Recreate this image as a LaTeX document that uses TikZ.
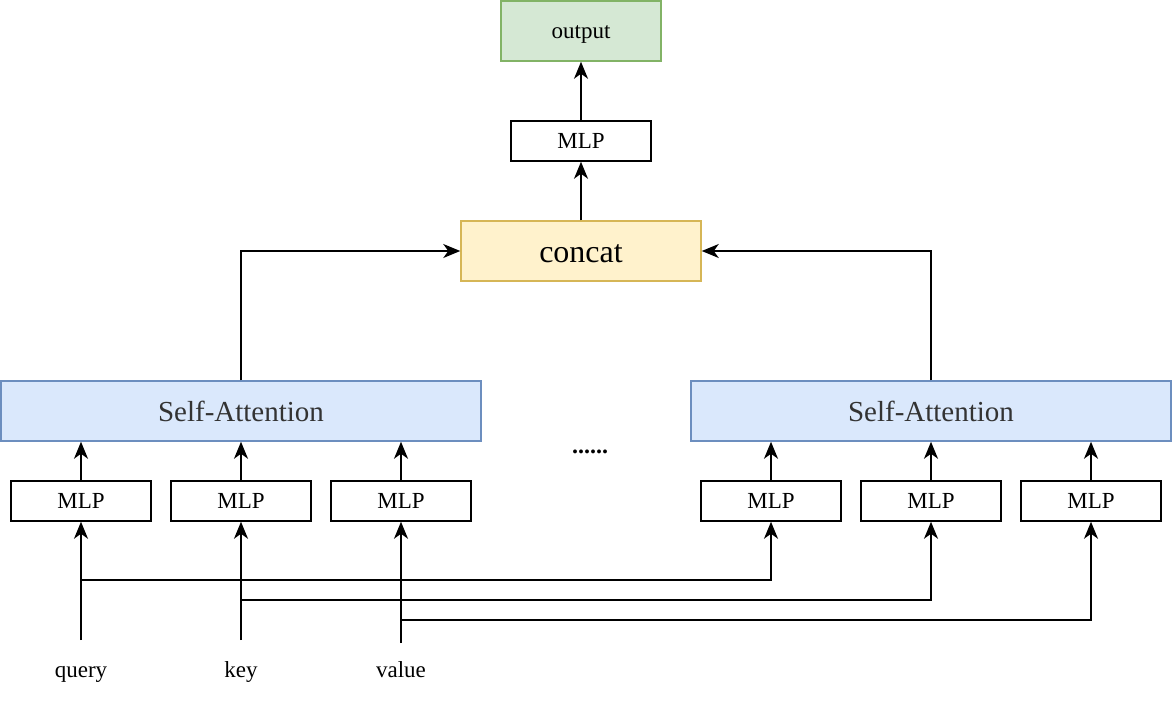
\documentclass[tikz,border=0pt]{standalone}
\usepackage{fontspec}
\setmainfont{Liberation Serif}
\usetikzlibrary{arrows.meta}
\definecolor{outfill}{HTML}{D5E8D4}
\definecolor{outdraw}{HTML}{82B366}
\definecolor{catfill}{HTML}{FFF2CC}
\definecolor{catdraw}{HTML}{D6B656}
\definecolor{safill}{HTML}{DAE8FC}
\definecolor{sadraw}{HTML}{6C8EBF}
\definecolor{satext}{HTML}{333333}
\tikzset{
  box/.style={draw, line width=1.5pt, inner sep=0pt, anchor=center},
  small/.style={font=\fontsize{23}{25}\selectfont, text height=16pt, text depth=1pt},
  mlpbox/.style={box, small, fill=white, minimum width=140pt, minimum height=40pt},
  outbox/.style={box, small, fill=outfill, draw=outdraw, minimum width=160pt, minimum height=60pt},
  catbox/.style={box, fill=catfill, draw=catdraw, minimum width=240pt, minimum height=60pt, font=\fontsize{32}{34}\selectfont, text height=23pt, text depth=1pt},
  sabox/.style={box, fill=safill, draw=sadraw, text=satext, minimum width=480pt, minimum height=60pt, font=\fontsize{29}{31}\selectfont, text height=21pt, text depth=1pt},
  lbl/.style={inner sep=0pt, small},
  conn/.style={line width=1.5pt, -{Stealth[length=17pt, width=14pt, inset=5pt]}}
}
\begin{document}
\begin{tikzpicture}[x=1pt, y=-1pt]
\useasboundingbox (0,0) rectangle (1172,702);

% top of the network
\node[outbox] (out) at (581,31) {output};
\node[mlpbox] (mlpt) at (581,141) {MLP};
\node[catbox] (cat) at (581,251) {concat};

% attention heads
\node[sabox] (sa1) at (241,411) {Self-Attention};
\node[sabox] (sa2) at (931,411) {Self-Attention};
\node[inner sep=0pt, font=\fontsize{24}{24}\selectfont\bfseries] (dots) at (590,452) {......};

% per-head projections
\node[mlpbox] (m1) at (81,501) {MLP};
\node[mlpbox] (m2) at (241,501) {MLP};
\node[mlpbox] (m3) at (401,501) {MLP};
\node[mlpbox] (m4) at (771,501) {MLP};
\node[mlpbox] (m5) at (931,501) {MLP};
\node[mlpbox] (m6) at (1091,501) {MLP};

% inputs
\node[lbl] (q) at (81,670) {query};
\node[lbl] (k) at (241,670) {key};
\node[lbl] (v) at (401,670) {value};
\coordinate (qs) at (81,640);
\coordinate (ks) at (241,640);
\coordinate (vs) at (401,643);
\coordinate (qb) at (81,580);
\coordinate (kb) at (241,600);
\coordinate (vb) at (401,620);

% input wiring
\draw[conn] (qs) -- (m1.south);
\draw[conn] (ks) -- (m2.south);
\draw[conn] (vs) -- (m3.south);
\draw[conn] (qb) -| (m4.south);
\draw[conn] (kb) -| (m5.south);
\draw[conn] (vb) -| (m6.south);

% projections into heads
\draw[conn] (m1.north) -- (m1.north |- sa1.south);
\draw[conn] (m2.north) -- (m2.north |- sa1.south);
\draw[conn] (m3.north) -- (m3.north |- sa1.south);
\draw[conn] (m4.north) -- (m4.north |- sa2.south);
\draw[conn] (m5.north) -- (m5.north |- sa2.south);
\draw[conn] (m6.north) -- (m6.north |- sa2.south);

% heads into concat
\draw[conn] (sa1.north) |- (cat.west);
\draw[conn] (sa2.north) |- (cat.east);

% output path
\draw[conn] (cat.north) -- (mlpt.south);
\draw[conn] (mlpt.north) -- (out.south);
\end{tikzpicture}
\end{document}
